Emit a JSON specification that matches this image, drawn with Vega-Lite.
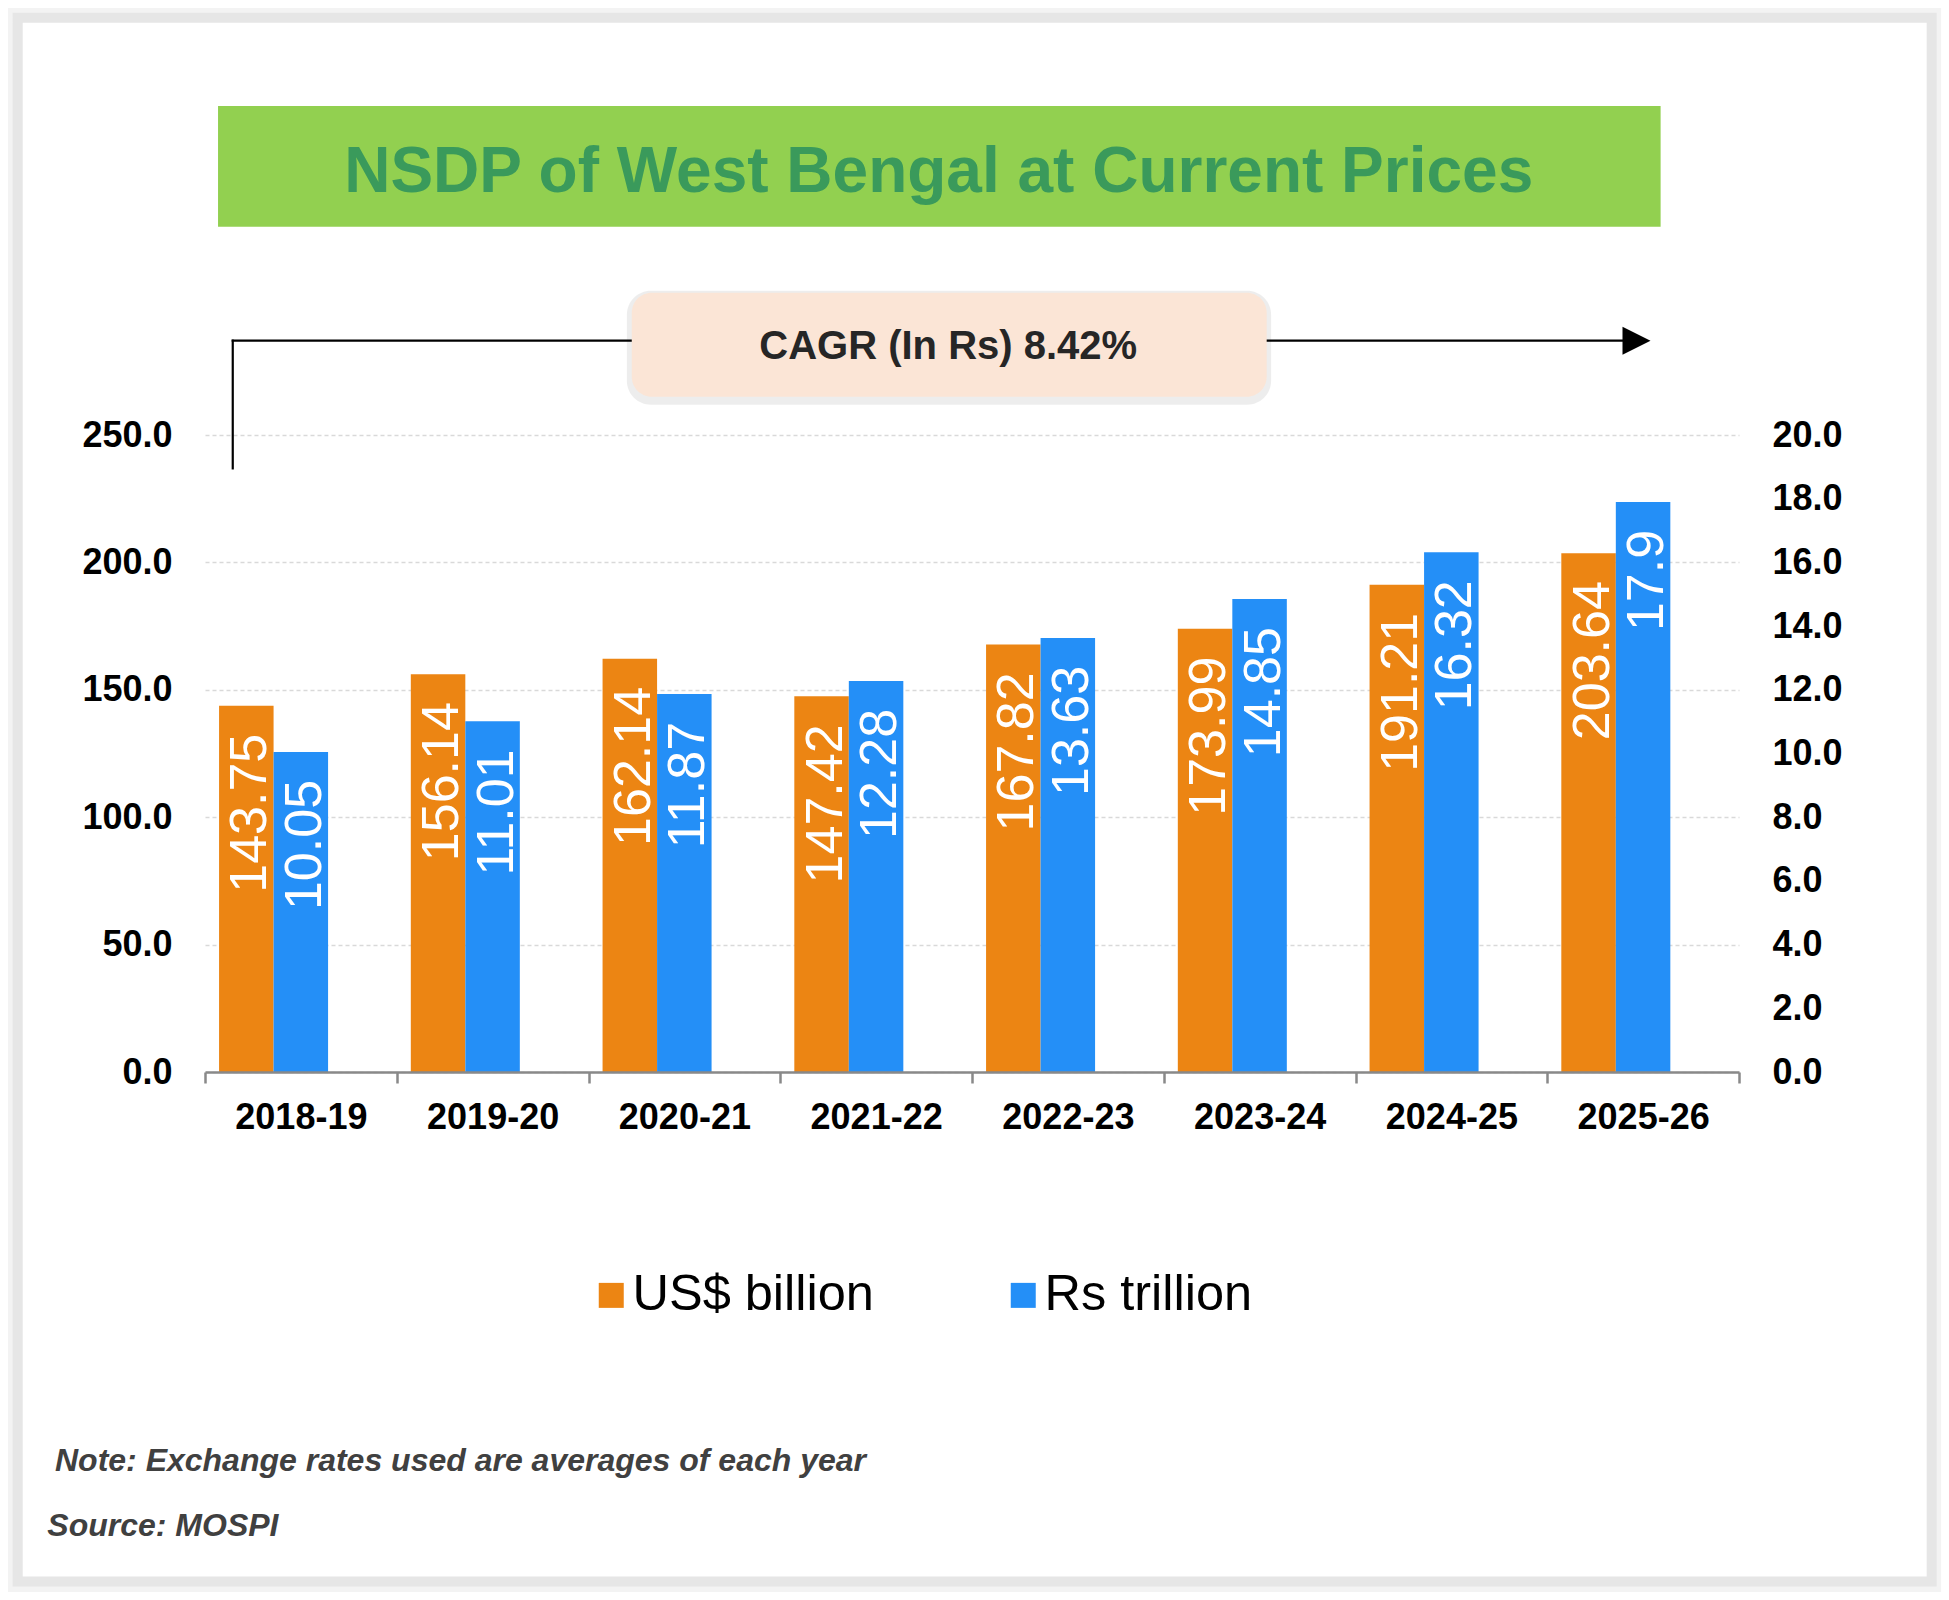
{
  "$schema": "https://vega.github.io/schema/vega-lite/v6.json",
  "description": "NSDP of West Bengal at current prices, US$ billion vs Rs trillion",
  "width": 1534,
  "height": 637,
  "autosize": {"type": "none"},
  "padding": {"left": 205, "top": 435, "right": 210, "bottom": 528},
  "background": "white",
  "config": {"view": {"stroke": null}, "font": "Liberation Sans"},
  "data": {
    "values": [
      {"year": "2018-19", "series": "US$ billion", "value": 143.75},
      {"year": "2019-20", "series": "US$ billion", "value": 156.14},
      {"year": "2020-21", "series": "US$ billion", "value": 162.14},
      {"year": "2021-22", "series": "US$ billion", "value": 147.42},
      {"year": "2022-23", "series": "US$ billion", "value": 167.82},
      {"year": "2023-24", "series": "US$ billion", "value": 173.99},
      {"year": "2024-25", "series": "US$ billion", "value": 191.21},
      {"year": "2025-26", "series": "US$ billion", "value": 203.64},
      {"year": "2018-19", "series": "Rs trillion", "value": 10.05},
      {"year": "2019-20", "series": "Rs trillion", "value": 11.01},
      {"year": "2020-21", "series": "Rs trillion", "value": 11.87},
      {"year": "2021-22", "series": "Rs trillion", "value": 12.28},
      {"year": "2022-23", "series": "Rs trillion", "value": 13.63},
      {"year": "2023-24", "series": "Rs trillion", "value": 14.85},
      {"year": "2024-25", "series": "Rs trillion", "value": 16.32},
      {"year": "2025-26", "series": "Rs trillion", "value": 17.9}
    ]
  },
  "layer": [
    {
      "data": {"values": [{}]},
      "layer": [
        {
          "mark": {"type": "rect", "filled": false, "stroke": "#F3F3F3", "strokeWidth": 6},
          "encoding": {
            "x": {"datum": -12.65, "type": "quantitative", "scale": {"domain": [0, 100], "nice": false, "zero": false}, "axis": null},
            "x2": {"datum": 112.98},
            "y": {"datum": 416.4, "type": "quantitative", "scale": {"domain": [0, 250], "nice": false, "zero": false}, "axis": null},
            "y2": {"datum": -202.9}
          }
        },
        {
          "mark": {"type": "rect", "filled": false, "stroke": "#E6E6E6", "strokeWidth": 10},
          "encoding": {
            "x": {"datum": -12.21, "type": "quantitative"},
            "x2": {"datum": 112.56},
            "y": {"datum": 413.8, "type": "quantitative"},
            "y2": {"datum": -200.0}
          }
        },
        {
          "mark": {"type": "rect", "fill": "#92D050"},
          "encoding": {
            "x": {"datum": 0.85, "type": "quantitative"},
            "x2": {"datum": 94.89},
            "y": {"datum": 379.1, "type": "quantitative"},
            "y2": {"datum": 331.7}
          }
        },
        {
          "mark": {"type": "text", "text": "NSDP of West Bengal at Current Prices", "fontSize": 64, "fontWeight": "bold", "color": "#3A9A5B", "align": "center", "baseline": "alphabetic"},
          "encoding": {
            "x": {"datum": 47.83, "type": "quantitative"},
            "y": {"datum": 345.5, "type": "quantitative"}
          }
        },
        {
          "mark": {"type": "rule", "color": "black", "strokeWidth": 2.2, "strokeCap": "square"},
          "encoding": {
            "x": {"datum": 1.809, "type": "quantitative"},
            "x2": {"datum": 92.44},
            "y": {"datum": 287.0, "type": "quantitative"}
          }
        },
        {
          "mark": {"type": "rule", "color": "black", "strokeWidth": 2.2, "strokeCap": "square"},
          "encoding": {
            "x": {"datum": 1.809, "type": "quantitative"},
            "y": {"datum": 287.0, "type": "quantitative"},
            "y2": {"datum": 236.9}
          }
        },
        {
          "mark": {"type": "point", "shape": "M-1,-1L1,0L-1,1Z", "size": 784, "filled": true, "color": "black", "opacity": 1, "strokeWidth": 0},
          "encoding": {
            "x": {"datum": 93.32, "type": "quantitative"},
            "y": {"datum": 287.0, "type": "quantitative"}
          }
        },
        {
          "mark": {"type": "rect", "fill": "#000000", "opacity": 0.07, "cornerRadius": 24},
          "encoding": {
            "x": {"datum": 27.5, "type": "quantitative"},
            "x2": {"datum": 69.5},
            "y": {"datum": 306.6, "type": "quantitative"},
            "y2": {"datum": 261.9}
          }
        },
        {
          "mark": {"type": "rect", "fill": "#FBE5D6", "cornerRadius": 20},
          "encoding": {
            "x": {"datum": 27.82, "type": "quantitative"},
            "x2": {"datum": 69.21},
            "y": {"datum": 305.85, "type": "quantitative"},
            "y2": {"datum": 265.0}
          }
        },
        {
          "mark": {"type": "text", "text": "CAGR (In Rs) 8.42%", "fontSize": 40, "fontWeight": "bold", "color": "#262626", "align": "center", "baseline": "alphabetic"},
          "encoding": {
            "x": {"datum": 48.45, "type": "quantitative"},
            "y": {"datum": 279.7, "type": "quantitative"}
          }
        },
        {
          "mark": {"type": "text", "text": "Note: Exchange rates used are averages of each year", "fontSize": 32, "fontWeight": "bold", "fontStyle": "italic", "color": "#404040", "align": "left", "baseline": "alphabetic"},
          "encoding": {
            "x": {"datum": -9.78, "type": "quantitative"},
            "y": {"datum": -156.6, "type": "quantitative"}
          }
        },
        {
          "mark": {"type": "text", "text": "Source: MOSPI", "fontSize": 32, "fontWeight": "bold", "fontStyle": "italic", "color": "#404040", "align": "left", "baseline": "alphabetic"},
          "encoding": {
            "x": {"datum": -10.28, "type": "quantitative"},
            "y": {"datum": -182.0, "type": "quantitative"}
          }
        }
      ]
    },
    {
      "transform": [{"filter": "datum.series === 'US$ billion'"}],
      "encoding": {
        "x": {
          "field": "year", "type": "nominal", "sort": null,
          "scale": {"paddingInner": 0, "paddingOuter": 0},
          "axis": {
            "title": null, "orient": "bottom", "labelAngle": 0, "labelFontSize": 36, "labelFontWeight": "bold",
            "labelColor": "black", "labelPadding": 17, "domainColor": "#898989", "domainWidth": 2.5,
            "tickColor": "#898989", "tickWidth": 2.5, "tickSize": 11, "tickBand": "extent",
            "grid": false, "zindex": 1
          }
        },
        "xOffset": {
          "field": "series", "type": "nominal",
          "scale": {"domain": ["US$ billion", "Rs trillion"], "paddingInner": 0, "paddingOuter": 0.759, "align": 0.17}
        },
        "y": {
          "field": "value", "type": "quantitative",
          "scale": {"domain": [0, 250], "nice": false},
          "axis": {
            "title": null, "orient": "left", "values": [0, 50, 100, 150, 200, 250], "format": ".1f",
            "labelFontSize": 36, "labelFontWeight": "bold", "labelColor": "black", "labelPadding": 33,
            "domain": false, "ticks": false, "grid": true, "gridColor": "#D9D9D9", "gridDash": [4, 3], "gridWidth": 1.3
          }
        }
      },
      "layer": [
        {
          "mark": {"type": "bar"},
          "encoding": {
            "color": {
              "field": "series", "type": "nominal",
              "scale": {"domain": ["US$ billion", "Rs trillion"], "range": ["#EC8513", "#248FF7"]},
              "legend": {
                "title": null, "orient": "none", "legendX": 381, "legendY": 835, "direction": "horizontal",
                "symbolType": "square", "symbolSize": 625, "symbolStrokeWidth": 0, "labelFontSize": 50.5,
                "labelColor": "black", "labelOffset": -4, "labelLimit": 0, "columnPadding": 124, "padding": 0
              }
            }
          }
        },
        {
          "mark": {"type": "text", "angle": 270, "align": "right", "baseline": "middle", "dx": -28, "dy": 4, "fontSize": 52, "color": "white"},
          "encoding": {"text": {"field": "value", "type": "nominal"}}
        }
      ]
    },
    {
      "transform": [{"filter": "datum.series === 'Rs trillion'"}],
      "encoding": {
        "x": {
          "field": "year", "type": "nominal", "sort": null,
          "scale": {"paddingInner": 0, "paddingOuter": 0},
          "axis": null
        },
        "xOffset": {
          "field": "series", "type": "nominal",
          "scale": {"domain": ["US$ billion", "Rs trillion"], "paddingInner": 0, "paddingOuter": 0.759, "align": 0.17}
        },
        "y": {
          "field": "value", "type": "quantitative",
          "scale": {"domain": [0, 20], "nice": false},
          "axis": {
            "title": null, "orient": "right", "values": [0, 2, 4, 6, 8, 10, 12, 14, 16, 18, 20], "format": ".1f",
            "labelFontSize": 36, "labelFontWeight": "bold", "labelColor": "black", "labelPadding": 33,
            "domain": false, "ticks": false, "grid": false
          }
        }
      },
      "layer": [
        {
          "mark": {"type": "bar"},
          "encoding": {
            "color": {
              "field": "series", "type": "nominal",
              "scale": {"domain": ["US$ billion", "Rs trillion"], "range": ["#EC8513", "#248FF7"]},
              "legend": {
                "title": null, "orient": "none", "legendX": 381, "legendY": 835, "direction": "horizontal",
                "symbolType": "square", "symbolSize": 625, "symbolStrokeWidth": 0, "labelFontSize": 50.5,
                "labelColor": "black", "labelOffset": -4, "labelLimit": 0, "columnPadding": 124, "padding": 0
              }
            }
          }
        },
        {
          "mark": {"type": "text", "angle": 270, "align": "right", "baseline": "middle", "dx": -28, "dy": 4, "fontSize": 52, "color": "white"},
          "encoding": {"text": {"field": "value", "type": "nominal"}}
        }
      ]
    }
  ],
  "resolve": {"scale": {"x": "independent", "y": "independent", "xOffset": "independent"}}
}
